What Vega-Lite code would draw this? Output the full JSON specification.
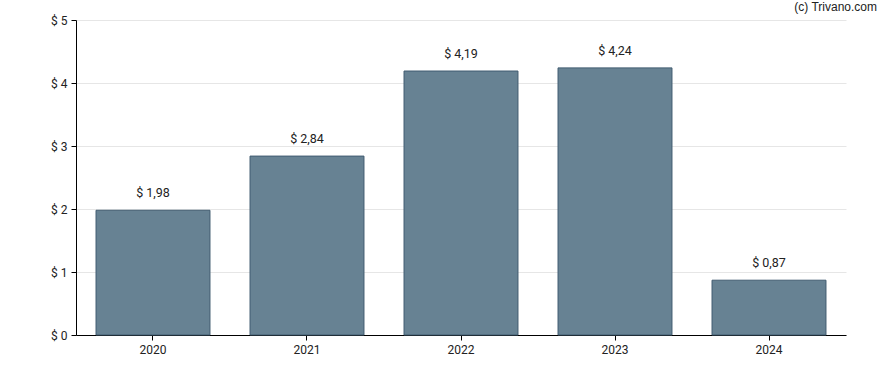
{
  "$schema": "https://vega.github.io/schema/vega-lite/v6.json",
  "autosize": {"type": "none"},
  "width": 770,
  "height": 315,
  "padding": {"left": 76, "top": 20, "right": 42, "bottom": 35},
  "background": "white",
  "config": {"view": {"stroke": null}, "font": "Roboto"},
  "title": {"text": "(c) Trivano.com", "anchor": "end", "frame": "group", "dx": 31, "offset": 0, "baseline": "top", "fontSize": 12, "font": "Liberation Sans", "fontWeight": "normal", "color": "#222222"},
  "data": {"values": [
    {"year": "2020", "value": 1.98},
    {"year": "2021", "value": 2.84},
    {"year": "2022", "value": 4.19},
    {"year": "2023", "value": 4.24},
    {"year": "2024", "value": 0.87}
  ]},
  "transform": [{"calculate": "'$ ' + replace(format(datum.value, '.2f'), '.', ',')", "as": "label"}],
  "encoding": {
    "x": {"field": "year", "type": "ordinal", "scale": {"paddingInner": 0.26, "paddingOuter": 0.13},
      "axis": {"title": null, "labelAngle": 0, "domainColor": "#000000", "tickColor": "#000000", "tickSize": 5, "labelFontSize": 12, "labelColor": "#222222", "labelPadding": 4, "grid": false}},
    "y": {"field": "value", "type": "quantitative", "scale": {"domain": [0, 5], "nice": false},
      "axis": {"title": null, "values": [0, 1, 2, 3, 4, 5], "labelExpr": "'$ ' + datum.value", "domainColor": "#000000", "tickColor": "#000000", "tickSize": 5, "labelFontSize": 12, "labelColor": "#222222", "labelPadding": 4, "gridColor": "#e6e6e6"}}
  },
  "layer": [
    {"mark": {"type": "bar", "fill": "#678293", "stroke": "#415c70", "strokeWidth": 1}},
    {"mark": {"type": "text", "baseline": "bottom", "dy": -10, "fontSize": 12.5, "color": "#222222"}, "encoding": {"text": {"field": "label"}}}
  ]
}
